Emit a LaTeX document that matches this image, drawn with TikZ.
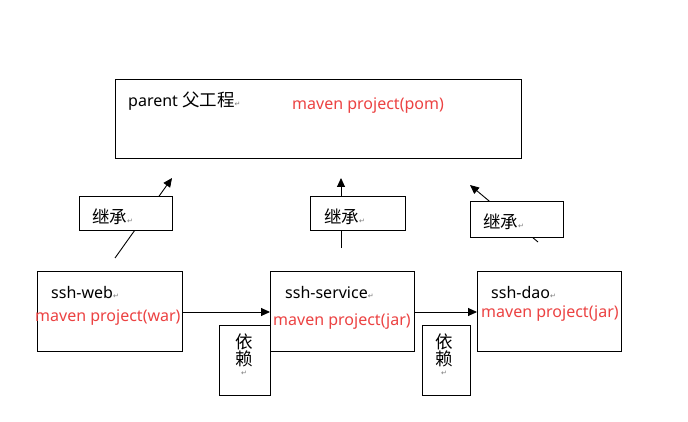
\documentclass[tikz,border=0pt]{standalone}
\usepackage{fontspec}
\setmainfont{Noto Sans}
\newfontfamily\cjk{Noto Sans CJK SC}
\newfontfamily\symfont{DejaVu Sans}
\usetikzlibrary{arrows.meta}
\definecolor{mred}{RGB}{236,66,66}
\definecolor{mgray}{RGB}{120,120,120}
\newcommand{\pmark}{{\symfont\fontsize{7}{8}\selectfont\textcolor{mgray}{↵}}}
\newcommand{\zh}[1]{{\cjk\fontsize{17.5}{18}\selectfont #1}}
\tikzset{
  box/.style={draw=black, line width=0.8pt, fill=white, anchor=north west, inner sep=0pt},
  lbl/.style={anchor=west, inner sep=0pt, font=\fontsize{16}{18}\selectfont},
  rlbl/.style={lbl, text=mred},
  conn/.style={line width=0.9pt, -{Triangle[length=9pt,width=8pt]}}
}
\begin{document}
\begin{tikzpicture}[x=1pt,y=-1pt]
\useasboundingbox (0,0) rectangle (688,422);
% inheritance arrows (drawn first, boxes hide middle)
\coordinate (a1s) at (115,258); \coordinate (a1e) at (172,178);
\coordinate (a2s) at (341,248); \coordinate (a2e) at (341,178);
\coordinate (a3s) at (538,242); \coordinate (a3e) at (470,185);
\draw[conn] (a1s) -- (a1e);
\draw[conn] (a2s) -- (a2e);
\draw[conn] (a3s) -- (a3e);
% parent box
\node[box, minimum width=406pt, minimum height=79pt] (parent) at (115,79) {};
\node[lbl] (ptxt) at (128,101) {parent \zh{父工程}\pmark};
\node[rlbl] (ppom) at (292,106) {maven project(pom)};
% 继承 boxes
\node[box, minimum width=93pt, minimum height=34pt] (j1) at (79,196) {};
\node[lbl] (j1t) at (92,217) {\zh{继承}\pmark};
\node[box, minimum width=95pt, minimum height=34pt] (j2) at (310,196) {};
\node[lbl] (j2t) at (324,217) {\zh{继承}\pmark};
\node[box, minimum width=93pt, minimum height=36pt] (j3) at (470,201) {};
\node[lbl] (j3t) at (483,222) {\zh{继承}\pmark};
% module boxes
\node[box, minimum width=145pt, minimum height=80pt] (web) at (37,271) {};
\node[lbl] (webt) at (51,292) {ssh-web\pmark};
\node[box, minimum width=144pt, minimum height=80pt] (svc) at (270,271) {};
\node[lbl] (svct) at (285,292) {ssh-service\pmark};
\node[box, minimum width=144pt, minimum height=80pt] (dao) at (477,271) {};
\node[lbl] (daot) at (491,292) {ssh-dao\pmark};
% dependency arrows
\draw[conn] (web.east |- 0,312) -- (svc.west |- 0,312);
\draw[conn] (svc.east |- 0,312) -- (dao.west |- 0,312);
% red labels
\node[rlbl] (webr) at (35,318) {maven project(war)};
\node[rlbl] (svcr) at (273,322) {maven project(jar)};
\node[rlbl] (daor) at (481,314) {maven project(jar)};
% 依赖 boxes
\node[box, minimum width=51pt, minimum height=70pt] (y1) at (219,325) {};
\node[lbl, anchor=center] (y1a) at (244,342) {\zh{依}};
\node[lbl, anchor=center] (y1b) at (244,359) {\zh{赖}};
\node[anchor=center, inner sep=0pt] (y1c) at (244,373) {\pmark};
\node[box, minimum width=48pt, minimum height=70pt] (y2) at (422,325) {};
\node[lbl, anchor=center] (y2a) at (444,342) {\zh{依}};
\node[lbl, anchor=center] (y2b) at (444,359) {\zh{赖}};
\node[anchor=center, inner sep=0pt] (y2c) at (444,373) {\pmark};
\end{tikzpicture}
\end{document}
